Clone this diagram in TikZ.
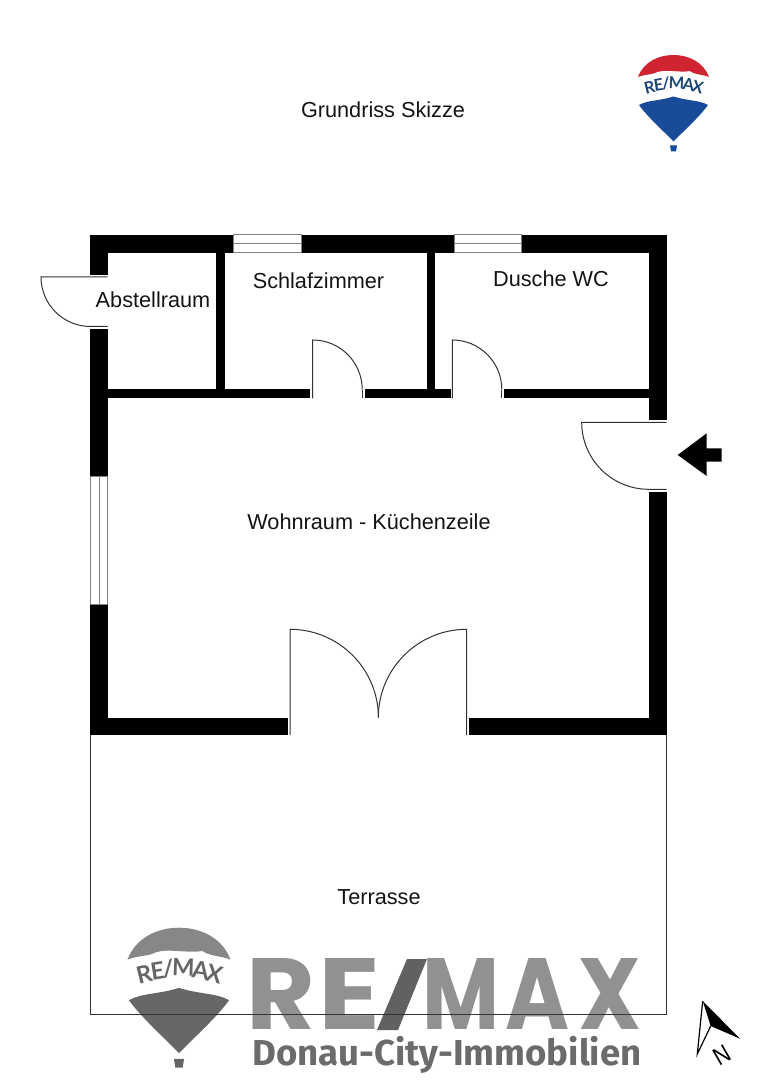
\documentclass[tikz,border=0pt]{standalone}
\usepackage{fontspec}
\usepackage{graphicx}
\setmainfont{Liberation Sans}
\newfontfamily\logofont{Poppins}
\newfontfamily\balloonfont{Lato}
\newfontfamily\cityfont{Fira Sans}
\usetikzlibrary{positioning}

\newlength\unitL
\setlength\unitL{0.5pt}

\definecolor{remaxred}{RGB}{208,36,48}
\definecolor{remaxblue}{RGB}{24,76,152}
\definecolor{remaxtext}{RGB}{28,72,120}

\tikzset{
	wall/.style={fill=black},
	thin line/.style={draw=black!80, line width=0.5pt},
	window line/.style={draw=black!50, line width=0.5pt},
	room label/.style={font=\fontsize{10.85}{12}\selectfont, text=black!92},
	big letter/.style={font=\logofont\bfseries, text=black!43, anchor=south west, inner sep=0pt},
}

% letter of the big logo: width in px, letter
\newcommand\bigletter[2]{\resizebox{#1\unitL}{71\unitL}{#2}}

% balloon logo: x, y (top of balloon), scale, top colour, bottom colour, text colour
\newcommand\balloonlogo[6]{
	\begin{scope}[shift={(#1,#2)}, scale=#3]
		\fill[#4] (-35.5,22) .. controls (-30,7) and (-15,0) .. (0,0) .. controls (15,0) and (30,7) .. (35.5,22)
			.. controls (28,19) and (22,20) .. (16,16) .. controls (8,18) and (-8,14) .. (-16,17) .. controls (-22,20) and (-28,19) .. cycle;
		\fill[#5] (-34.5,50) .. controls (-26,45) and (-14,46) .. (0,41.5) .. controls (14,46) and (26,45) .. (34.5,50)
			.. controls (26,62) and (8,78) .. (0,86.5) .. controls (-8,78) and (-26,62) .. cycle;
		\fill[#5] (-3.5,90.5) -- (3.5,90.5) -- (2.5,96.5) -- (-2.5,96.5) -- cycle;
		\foreach \ltr/\lx/\ly/\lrot in {R/-24/32/14, E/-14.8/29.5/9, \slash/-7.5/28/5, M/3/27.5/-2, A/15/29/-8, X/24.5/32/-14}
			\node[text=#6, rotate=\lrot, scale=#3, inner sep=0pt, font=\balloonfont\bfseries\fontsize{8.2}{9}\selectfont] at (\lx,\ly) {\ltr};
	\end{scope}
}

\begin{document}
\begin{tikzpicture}[x=\unitL, y=-\unitL, >=stealth]
	\useasboundingbox (0,0) rectangle (763,1080);
	
	% === Logos ===
	\balloonlogo{673.5}{55}{1}{remaxred}{remaxblue}{remaxtext}
	\balloonlogo{179}{927.7}{1.45}{black!47}{black!60}{black!60}
	
	\node[big letter] (logoR) at (246,1030) {\bigletter{69}{R}};
	\node[big letter] (logoE) at (318.5,1030) {\bigletter{62}{E}};
	\fill[black!62] (407,959) -- (427,959) -- (398,1030) -- (377,1030) -- cycle;
	\node[big letter] (logoM) at (422,1030) {\bigletter{77}{M}};
	\node[big letter] (logoA) at (505,1030) {\bigletter{64}{A}};
	\node[big letter] (logoX) at (578.5,1030) {\bigletter{63}{X}};
	\node[anchor=base west, inner sep=0pt, text=black!58, xscale=1.015, font=\cityfont\bfseries\fontsize{18}{18}\selectfont] (city) at (252,1065) {Donau-City-Immobilien};
	
	% === Terrace ===
	\draw[thin line] (90,735) -- (90,1014.5) -- (666.7,1014.5) -- (666.7,735);
	
	% === Outer walls ===
	\fill[wall] (90,235) rectangle (233.5,253);
	\fill[wall] (301,235) rectangle (454,253);
	\fill[wall] (521.5,235) rectangle (666.7,253);
	\fill[wall] (90,235) rectangle (107.7,275);
	\fill[wall] (90,329) rectangle (107.7,476.7);
	\fill[wall] (90,604) rectangle (107.7,735);
	\fill[wall] (648.7,235) rectangle (666.7,420);
	\fill[wall] (648.7,491.7) rectangle (666.7,735);
	\fill[wall] (90,717.7) rectangle (288.3,735);
	\fill[wall] (469,717.7) rectangle (666.7,735);
	
	% === Inner walls ===
	\fill[wall] (215.7,253) rectangle (224.7,390);
	\fill[wall] (426.7,253) rectangle (435.3,390);
	\fill[wall] (107,389.3) rectangle (310,398.3);
	\fill[wall] (365,389.3) rectangle (450.7,398.3);
	\fill[wall] (504,389.3) rectangle (649,398.3);
	
	% === Windows ===
	\foreach \wx/\wy/\wxx/\wyy in {233.5/235/301/253, 454/235/521.5/253}
	{
		\draw[window line] (\wx,\wy) rectangle (\wxx,\wyy);
		\draw[window line] (\wx,244) -- (\wxx,244);
	}
	\draw[window line] (90,476.7) rectangle (107.7,604);
	\draw[window line] (99,476.7) -- (99,604);
	
	% === Doors ===
	\draw[thin line] (107.7,277) -- (41,277) arc[start angle=180, end angle=90, radius=49.5] -- (107.7,326.5);
	\draw[thin line] (312.7,398.3) -- (312.7,340) arc[start angle=-90, end angle=0, radius=49.5];
	\draw[thin line] (362.2,389.5) -- (362.2,398.3);
	\draw[thin line] (452.3,398.3) -- (452.3,340) arc[start angle=-90, end angle=0, radius=49.5];
	\draw[thin line] (501.8,389.5) -- (501.8,398.3);
	\draw[thin line] (666.7,422.3) -- (581.7,422.3) arc[start angle=180, end angle=90, radius=67] -- (666.7,489.3);
	\draw[thin line] (290,735) -- (290,629.3) arc[start angle=-90, end angle=0, radius=88.4];
	\draw[thin line] (466.7,735) -- (466.7,629.3) arc[start angle=-90, end angle=-180, radius=88.4];
	
	% === Entrance arrow ===
	\fill (677.7,455) -- (706.7,433.3) -- (706.7,448.3) -- (721.7,448.3) -- (721.7,461.7) -- (706.7,461.7) -- (706.7,476) -- cycle;
	
	% === North arrow ===
	\draw[line width=0.6pt, line join=miter] (702.7,1001) -- (697.3,1054) -- (710.7,1026);
	\fill (702.7,1001) -- (740,1038.7) -- (710.7,1026) -- cycle;
	\node[rotate=30, xscale=0.85, font=\fontsize{12.5}{13}\selectfont] (north) at (721.7,1055) {N};
	
	% === Labels ===
	\node[room label] (title) at (383,110) {Grundriss Skizze};
	\node[room label] (abstell) at (153,300) {Abstellraum};
	\node[room label] (schlaf) at (318.5,281) {Schlafzimmer};
	\node[room label] (dusche) at (551,279) {Dusche WC};
	\node[room label] (wohnraum) at (369,522) {Wohnraum - Küchenzeile};
	\node[room label] (terrasse) at (379,897) {Terrasse};
\end{tikzpicture}
\end{document}
